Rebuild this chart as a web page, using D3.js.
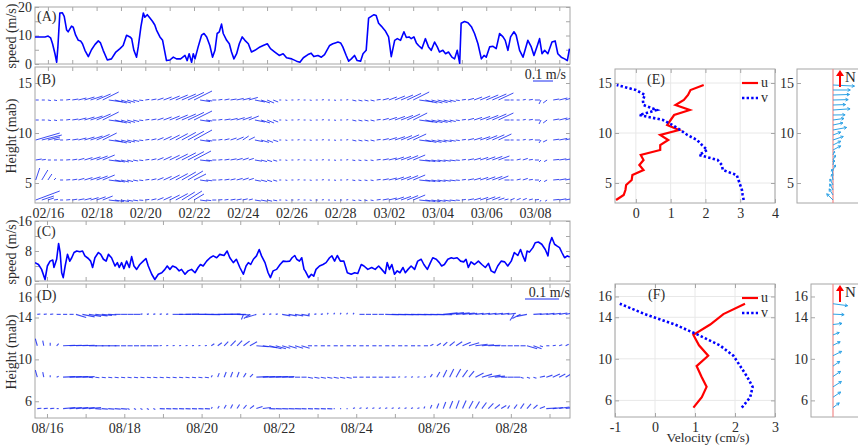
<!DOCTYPE html>
<html>
<head>
<meta charset="utf-8">
<script src="https://cdn.jsdelivr.net/npm/d3@7"></script>
<style>
body{margin:0;background:#fff;}
svg text{font-family:"Liberation Serif","Times New Roman",serif;fill:#2b2b2b;}
</style>
</head>
<body>
<script>
// ---------- data ----------
// (A) speed, days after 02/16
const daysA=[-0.53,-0.12,0.01,0.11,0.19,0.29,0.36,0.41,0.49,0.59,0.67,0.77,0.83,0.97,1.04,1.14,1.25,1.34,1.42,1.52,1.66,1.79,1.93,2.07,2.16,2.27,2.44,2.61,2.79,2.96,3.09,3.23,3.37,3.44,3.53,3.64,3.71,3.82,3.92,3.98,4.08,4.19,4.30,4.39,4.46,4.60,4.71,4.87,5.01,5.15,5.28,5.45,5.63,5.72,5.80,5.90,5.97,6.04,6.17,6.31,6.41,6.52,6.65,6.76,6.86,6.95,7.04,7.13,7.20,7.34,7.45,7.54,7.64,7.75,7.86,7.98,8.09,8.23,8.36,8.50,8.71,8.84,9.01,9.14,9.32,9.50,9.66,9.80,10.01,10.21,10.35,10.49,
10.68,10.81,10.92,11.09,11.23,11.36,11.57,11.70,11.80,11.91,12.02,12.11,12.25,12.35,12.46,12.59,12.70,12.84,12.94,13.07,13.17,13.28,13.39,13.48,13.58,13.69,13.85,13.99,14.10,14.24,14.35,14.48,14.62,14.72,14.83,14.92,15.03,15.13,15.22,15.36,15.50,15.63,15.74,15.88,15.99,16.08,16.22,16.33,16.45,16.59,16.70,16.81,16.91,16.97,17.11,17.25,17.39,17.52,17.66,17.80,17.91,18.00,18.14,18.28,18.41,18.55,18.69,18.78,18.89,19.00,19.14,19.23,19.37,19.51,19.71,19.85,19.96,20.10,20.19,20.29,20.40,20.53,20.70,20.83,20.94,21.08,21.22,21.33,21.42];
const speedA=[9.5,9.5,9.8,9.2,7.1,3.6,0.6,6.0,17.9,18.0,16.7,11.9,11.3,13.3,12.9,10.1,8.3,8.1,7.1,4.8,2.6,5.0,6.8,8.1,7.4,4.8,1.4,1.8,4.2,5.4,6.5,10.1,9.5,8.9,4.8,2.4,6.0,13.1,17.9,16.4,17.3,16.1,14.9,13.7,11.9,9.5,8.3,1.2,1.4,2.4,1.8,1.8,3.0,1.2,3.6,0.6,3.6,1.8,6.0,10.1,10.7,9.5,6.5,2.4,4.8,10.7,11.3,14.0,10.7,8.3,7.1,4.2,1.8,3.6,7.1,9.5,8.3,7.1,4.2,4.8,6.0,6.5,7.1,5.4,4.2,3.0,3.6,2.2,1.8,1.0,0.6,2.2,
3.3,3.8,2.6,3.0,2.4,3.3,6.5,7.1,7.4,7.7,7.4,6.0,3.0,1.0,1.8,3.0,1.2,1.0,3.6,4.8,16.1,16.7,17.3,17.0,14.3,13.3,11.7,9.5,2.6,8.3,8.9,8.3,11.3,9.3,9.5,8.9,9.5,7.4,6.5,5.4,8.9,6.0,4.8,7.7,6.0,4.2,4.8,3.6,4.2,2.4,1.8,4.8,0.2,14.3,14.9,14.5,13.1,10.7,7.1,1.8,3.0,2.4,6.0,6.2,5.4,10.7,9.5,8.3,4.8,9.5,11.3,10.1,4.8,2.4,8.3,6.0,3.0,6.5,8.9,3.6,4.8,3.6,7.7,8.1,3.6,2.4,1.8,1.2,5.4];

// (C) speed, days after 08/16
const daysC=[-0.31,-0.22,-0.14,-0.05,0.01,0.08,0.15,0.18,0.25,0.30,0.34,0.38,0.42,0.47,0.53,0.59,0.64,0.70,0.77,0.85,0.92,0.98,1.07,1.13,1.18,1.24,1.33,1.39,1.46,1.53,1.59,1.67,1.76,1.82,1.87,1.93,1.99,2.06,2.13,2.19,2.25,2.32,2.40,2.49,2.56,2.62,2.71,2.79,2.88,2.97,3.05,3.11,3.18,3.25,3.34,3.42,3.48,3.57,3.65,3.74,3.83,3.91,3.97,4.04,4.13,4.22,4.30,4.39,4.47,4.58,4.66,4.73,4.82,4.90,4.99,5.08,5.15,5.21,5.27,5.34,5.42,5.49,5.55,5.64,5.72,5.78,5.85,5.94,6.03,6.11,6.20,6.28,6.34,6.41,6.46,6.53,6.59,6.65,
6.68,6.77,6.84,6.90,6.96,7.05,7.14,7.22,7.31,7.37,7.44,7.51,7.59,7.68,7.77,7.87,7.96,8.04,8.13,8.20,8.30,8.40,8.49,8.58,8.66,8.75,8.80,8.86,8.92,8.99,9.06,9.13,9.21,9.27,9.34,9.42,9.51,9.59,9.68,9.75,9.84,9.92,9.98,10.07,10.15,10.21,10.28,10.37,10.46,10.52,10.61,10.70,10.78,10.84,10.90,10.97,11.06,11.16,11.25,11.34,11.42,11.49,11.58,11.66,11.75,11.84,11.92,12.01,12.09,12.18,12.25,12.31,12.37,12.42,12.48,12.57,12.63,12.71,12.80,12.89,12.96,13.00,13.06,13.13,13.20,13.26,13.32,13.39,13.46,13.52];
const speedC=[4.9,4.4,3.1,0.4,4.0,5.3,5.6,3.6,5.8,10.0,7.6,2.2,0.9,4.0,7.1,5.3,6.2,7.6,8.0,7.8,8.0,6.7,6.0,5.3,3.6,6.2,7.6,7.1,5.8,5.3,7.1,6.2,4.0,4.9,3.6,4.9,3.3,5.3,3.6,6.5,4.0,3.1,4.4,5.3,6.0,4.0,1.8,0.4,1.8,2.2,3.1,4.0,3.1,4.0,3.6,2.7,3.1,1.8,2.7,3.1,2.2,3.6,4.4,4.0,5.3,6.2,6.7,6.2,7.1,6.8,8.0,6.2,4.9,5.8,3.6,1.8,4.0,4.9,4.4,5.8,6.7,8.4,6.7,4.9,2.2,0.9,2.7,3.1,4.4,5.3,5.2,5.3,6.2,6.8,5.8,5.3,6.2,3.1,
2.7,0.9,1.8,1.3,3.1,4.0,4.4,4.9,6.2,6.7,5.3,6.8,5.3,5.3,2.2,1.8,2.2,2.0,4.4,4.0,3.1,3.6,3.1,4.0,3.1,2.0,4.9,3.1,4.4,1.8,2.7,2.2,3.6,2.2,3.1,4.0,3.1,5.3,5.8,4.4,3.1,4.9,6.2,5.8,4.9,4.0,4.4,5.8,6.2,6.0,6.2,5.3,5.1,5.8,3.6,5.1,4.4,5.3,4.4,3.6,4.7,2.7,2.2,4.0,5.3,5.1,4.0,5.3,7.6,6.8,8.4,6.7,5.3,8.0,7.7,8.9,10.2,10.4,9.8,8.4,6.7,9.8,11.6,9.8,9.3,8.9,7.6,6.2,6.7,6.4];

// (B) current sticks (cm/s), every 6 h from 02/15 12:00
const levelsB=[3.3,5.3,7.3,9.3,11.3,13.3];
const uB3=[12,6,3,2,1.5, 2,2.5,3,3.5,4,4.5,5, 5,4.5,4,3,2.5,2, 2,2.5,3,4,5,6,6.5,7,5, 3.5,2.5,2, 2,2,2.5,2.5,2.5,2, 3,3,2.5,2, 1,1,1,1,1,1,1,1,1,1,1,1, 1.5,1.5,1.5,1.5, 2,3,4,4.5,5,5.5,6, 5.5,5,4.5,4,3.5,3,2, 2,3,3.5,4,4.5,4,3, 2,2,2,2,2,2, -0.5,-1, 3,3.5,4];
const vB3=[4.5,2,1,0.3,0, 0.2,0.4,0.6,0.9,1.2,1.6,2, -0.6,-0.8,-0.8,-0.6,-0.4,-0.2, 0.3,0.6,1.2,1.8,2.5,3.2,4,4.5,3, -0.5,-0.3,0, 0.2,0.3,0.4,0.5,0.6,0.5, -0.5,-0.6,-0.6,-0.4, 0,-0.2,0,0.2,0,-0.2,0,0.2,0,-0.2,0,0.2, -0.3,-0.3,-0.3,-0.3, 0.3,0.6,1,1.5,1.8,2.2,2.5, -0.6,-0.8,-0.8,-0.7,-0.6,-0.4,-0.2, 0.3,0.6,1,1.3,1.6,1.5,1, 0.5,0.8,0.8,0.8,0.5,0.3, -0.8,-0.6, 0.3,0.6,0.8];
const uB5=[2,3,2,1,1.5, 2,2.5,3,4,5,5.5,6, 6,5,4,3,2.5,2, 2,2.5,3,4,5,6,7,7.5,6, 4,3,2, 2,2.5,2.5,3,3,2.5, 3,3,2.5,2, 1,1,1,1,1,1,1,1,1,1,1,1, 1.5,1.5,1.5,1.5, 2,3,4,4.5,5,5.5,6, 5.5,5,4.5,4,3.5,3,2, 2,3,3.5,4,4.5,5,5, 2.5,1.5,2,2.5,2,2, -1,-1.5, 3,3.5,4];
const vB5=[6,5,3,1,0, 0.2,0.4,0.8,1.2,1.6,2,2.5, -0.8,-1,-1,-0.8,-0.5,-0.3, 0.3,0.6,1.2,1.8,2.5,3.2,4,4.5,3, -0.6,-0.4,0, 0.2,0.4,0.6,0.8,1,0.8, -0.6,-0.8,-0.8,-0.6, 0,-0.2,0,0.2,0,-0.2,0,0.2,0,-0.2,0,0.2, -0.3,-0.3,-0.3,-0.3, 0.3,0.6,1,1.5,1.8,2.2,2.5, -0.6,-0.8,-0.8,-0.7,-0.6,-0.4,-0.2, 0.3,0.6,1,1.3,1.6,1.8,2, 0,0,0.5,0.8,0.3,0, -1,-0.8, 0.3,0.6,0.8];
const uB7=[3,2,1.5,1.5,1.5, 2,2.5,3,4,5,5.5,6, 6,5,4,3,2.5,2, 2,2.5,3,4,5,6,7,8,8.5, 5,3,2, 2,2.5,3,3,3,2.5, 3.5,3,2.5,2, 1,1,1,1,1,1,1,1,1,1,1,1, 1.5,1.5,1.5,1.5, 2,3,4,4.5,5,5.5,6, 5.5,5,4.5,4,3.5,3,2, 2,3,3.5,4,4.5,5,5.5, 2.5,1.5,2,2.5,2,2, -1,-1.5, 3,3.5,4];
const vB7=[0.5,0.3,0,0,0, 0.2,0.4,0.8,1.2,1.6,2,2.5, -0.8,-1,-1,-0.8,-0.5,-0.3, 0.3,0.6,1.2,1.8,2.4,3,3.6,4.2,4.5, -0.6,-0.4,0, 0.2,0.4,0.6,0.8,1,0.8, -0.6,-0.8,-0.8,-0.6, 0,-0.2,0,0.2,0,-0.2,0,0.2,0,-0.2,0,0.2, -0.3,-0.3,-0.3,-0.3, 0.3,0.6,1,1.5,1.8,2.2,2.5, -0.6,-0.8,-0.8,-0.7,-0.6,-0.4,-0.2, 0.3,0.6,1,1.3,1.6,1.8,2, 0,0,0.5,0.8,0.3,0, -1,-0.8, 0.3,0.6,0.8];
const uB9=[12,10,6,3,1.5, 2,3,4,5,6,6.5,7, 7,6,5,4,3,2, 2,2.5,3,4,5,6,7,8,9, 5,3,2, 2,2.5,3,3.5,3,3, 4,4,3,2.5, 1,1,1,1,1,1,1,1,1,1,1,1, 2,2,2,2, 2,3,4,5,5.5,6,6.5, 6,5.5,5,4.5,4,3,2, 2,3,4,5,5.5,6,6.5, 2.5,1.5,1.5,1.5,2,2.5, -1,-2, 3,4,4];
const vB9=[3.5,2.5,1.5,0.5,0, 0.3,0.5,1,1.5,2,2.8,3.5, -1,-1.5,-1.3,-1,-0.7,-0.3, 0.3,0.6,1.2,1.8,2.5,3.2,3.8,4.4,5, -0.8,-0.5,0, 0.3,0.6,1,1.5,2,1.5, -0.8,-1.2,-1.2,-0.8, 0,-0.2,0,0.2,0,-0.2,0,0.2,0,-0.2,0,0.2, -0.5,-0.5,-0.5,-0.5, 0.3,0.7,1.2,1.7,2.2,2.6,3, -0.8,-1.2,-1.2,-1,-0.8,-0.6,-0.3, 0.3,0.7,1.2,1.7,2.2,2.6,3, 0,0,0,0.3,0.3,0, -1.5,-1, 0.4,0.8,1];
const uB11=[1.5,1.5,1.5,1.5,1.5, 2,3,4,5,6,7,8, 7,6,5,4,3,2, 2,2.5,3,4,5,6,7,8,9, 5,3,2, 2,3,3.5,4,4.5,5, 5,4.5,3.5,2.5, 1,1,1,1,1,1,1,1,1,1,1,1, 2,2,2,2, 2,3,4,5,6,6.5,7, 7,6,5.5,5,4,3,2, 2,3,4,5,6,7,7.5, 2.5,1.5,1.5,1.5,2,2.5, -1,-2, 3,4,4];
const vB11=[0,0,-0.3,-0.3,0, 0.3,0.5,1,1.5,2,3,4, -1,-1.5,-1.5,-1.2,-0.8,-0.3, 0.3,0.5,1,1.5,2,2.5,3,3.8,4.5, -0.8,-0.5,0, 0.3,0.5,0.8,1.2,1.6,2, -1,-1.5,-1.5,-1, 0,-0.2,0,0.2,0,-0.2,0,0.2,0,-0.2,0,0.2, -0.5,-0.5,-0.5,-0.5, 0.3,0.8,1.3,1.8,2.3,3,3.5, -1,-1.3,-1.3,-1.2,-1,-0.8,-0.3, 0.3,0.8,1.3,1.8,2.3,3,3.5, 0,0,0,0.3,0.3,0, -2,-1.5, 0.5,1,1.3];
const uB13=[1.5,1.5,1.5,1.5,1.5, 2,3,4,5,6,7,8, 7,6,5,4,3,2, 2,2.5,3,4,5,6,7,8,9, 5,3,2, 2,2.5,3,3.5,4,4.5, 5,4.5,3.5,2.5, 1,1,1,1,1,1,1,1,1,1,1,1, 2,2,2,2, 2,3,4,5,6,7,8, 7,6,5.5,5,4,3,2, 2,3,4,5,6,7,7.5, 2.5,1.5,1.5,1.5,2,2.5, -1,-2, 3,4,4];
const vB13=[0,0,-0.3,-0.3,0, 0.3,0.5,1,1.5,2,3,4, -1,-1.5,-1.5,-1.2,-0.8,-0.3, 0.3,0.5,1,1.5,2,2.5,3,3.8,4.5, -0.8,-0.5,0, 0.3,0.5,0.5,0.8,1,1.3, -1,-1.5,-1.5,-1, 0,-0.2,0,0.2,0,-0.2,0,0.2,0,-0.2,0,0.2, -0.5,-0.5,-0.5,-0.5, 0.3,0.8,1.5,2,2.5,3.3,4, -1,-1.5,-1.5,-1.3,-1,-0.8,-0.3, 0.3,0.8,1.5,2,2.5,3,3.5, 0,0,0,0.3,0.3,0, -2,-1.5, 0.5,1,1.3];

// (D) current sticks (cm/s), every 4 h from 08/15 18:00
const levelsD=[5.3,8.3,11.3,14.3];
const uD5=[1.2,1.2,1.2,0.6, 3.6,3.6,3.6,3.6,3.6, 1.8,1.8,1.8,1.8,1.8, 0.6,0.6,0.6,0.6,0.6, 1.5,1.5,1.5,1.5,1.5,1.5,1.5,1.5, 0.3,0.45,0.6,0.6,0.75,0.9,1.2,1.8,2.4, 1.8,1.8,1.8,1.8,1.8, 1.5,1.5,1.5,1.5,1.5, 0.3,0.3,0.3, 0.6,0.6,0.6,0.6,0.6,0.6,0.6,0.6,0.6,0.6,0.6, 0.3,0.45,0.6,0.75,0.9,0.9,1.05,1.2,1.2,1.35,1.5,1.5,1.5, 0.6,0.9,1.05,1.2,1.2,1.5, 3,3,3,3];
const vD5=[0.1,0.1,0.1,0, 0.3,0.3,0.3,0.3,0.3, -0.15,-0.15,-0.15,-0.15,-0.15, -0.3,-0.3,-0.3,-0.3,-0.3, -0.1,-0.1,-0.1,-0.1,-0.1,-0.1,-0.1,-0.1, 0.45,0.75,1.05,1.2,1.2,1.05,0.9,0.6,0.3, -0.1,-0.1,-0.1,-0.1,-0.1, -0.1,-0.1,-0.1,-0.1,-0.1, 0,0,0, 0.25,0.25,0.25,0.25,0.25,0.25,0.25,0.25,0.25,0.25,0.25, 0.6,1.05,1.5,1.95,2.25,2.4,2.4,2.25,2.1,1.8,1.5,1.2,0.9, 0.9,1.2,1.5,1.35,1.05,0.6, 0.15,0.3,0.45,0.45];
const uD8=[-0.6,-0.3,0,0.6, 3.6,3.6,3.6,3.6, 1.2,1.2,1.2,1.2,1.2,1.2,1.2,1.2,1.2,1.2,1.2,1.2,1.2,1.2,1.2,1.2,1.2,1.2,1.2, 0.3,0.45,0.6,0.6,0.6,0.75,0.9, 3.6,3.6,3.6,3.6,3.6, 1.5,1.5,1.5, 1.5,1.5,1.5,1.5,1.5,1.5,1.5, 1.2,1.2,1.2,1.2,1.2,1.2,1.2, 0.6,0.6,0.6,0.6,0.6, 0.6,0.9,1.05,1.2,1.35,1.5,1.5, 2.4,3,3.6,3, 1.8,1.8,1.8, 0.9,0.9,0.9, 1.5,1.8,2.1,1.8,1.8];
const vD8=[2.1,1.5,0.6,0.3, 0.15,0.15,0.15,0.15, -0.15,-0.15,-0.15,-0.15,-0.15,-0.15,-0.15,-0.15,-0.15,-0.15,-0.15,-0.15,-0.15,-0.15,-0.15,-0.15,-0.15,-0.15,-0.15, 0.6,1.2,1.5,1.5,1.5,1.2,0.9, 0.15,0.15,0.15,0.15,0.15, 0,0,0, -0.3,-0.3,-0.3,-0.3,-0.3,-0.3,-0.3, 0,0,0,0,0,0,0, 0.1,0.1,0.1,0.1,0.1, 0.9,1.5,2.1,2.4,2.4,2.1,1.8, 1.2,0.9,0.6,0.3, 0,0,0, -0.3,-0.3,-0.3, 0.3,0.6,0.9,0.9,1.05];
const uD11=[-0.6,-0.3,0,0.6, 3.6,3.6,3.6,3.6, 2.4,2.4,2.4,2.4, 1.5,1.5,1.5,1.5,1.5,1.5,1.5, 0.6,0.6,0.6,0.6,0.6,0.6,0.6,0.6, 0.9,1.2,1.2,1.5,1.5,1.8,2.1, 3.6,4.2,3.6,3, 2.4,2.4,2.4,2.4, 1.2,0.9,1.2,0.9,1.2,0.9,1.2,0.9,1.2,0.9,1.2,0.9,1.2,0.9,1.2,0.9,1.2,0.9,1.2, 0.9,1.2,1.2,1.5,1.8,2.4,3, 3.6,3.6,3.6, 1.5,1.5,1.5,1.5,1.5, 3,2.4, 0.9,0.9,0.9,0.9,0.9];
const vD11=[2.1,1.5,0.9,0.6, 0.15,0.15,0.15,0.15, 0,0,0,0, 0,0,0,0,0,0,0, 0.1,0.1,0.1,0.1,0.1,0.1,0.1,0.1, 0.6,0.9,1.2,1.5,1.5,1.35,1.2, -0.3,-0.6,-0.9,-0.9, -0.75,-0.75,-0.75,-0.75, 0,0,0,0,0,0,0,0,0,0,0,0,0,0,0,0,0,0,0, 0.45,0.75,1.05,1.2,1.2,1.05,0.9, 0.45,0.3,0.15, 0,0,0,0,0, -0.9,-0.9, -0.3,0,0.15,0.3,0.45];
const uD14=[0.9,0.9,0.9, 1.2,1.2,1.2, 3,3.6,3.6,3.6,3,2.4, 1.8,1.8,1.8,1.8, 0.6,0.6,0.6,0.6,0.6, 3,3.6,4,4.2,4.5,4.5,4.2,4.5,4.8,4.5,4, -0.6,-1.8,-3, 0.6,0.6,0.6, 2.4,2.4,2.4,2.4, 0.6,0.6,0.6, 0.3,0.3,0.3,0.3,0.3, 1.5,1.5,1.5,1.5, 4,4.2,4.5,4.2,4.5,4.2,4,4.2,4.5, 4.2,4.2,4,3.6, 2.4,2.4,2.4,2.4,2.4,2.4,2.4, -1.2,-2.4,-3, 2.4,2.4,2.4,2.4,2.4,2.4];
const vD14=[0.1,0.1,0.1, 0,0,0, -0.9,-0.75,-0.6,-0.45,-0.3,-0.15, 0,0,0,0, 0.15,0.15,0.15,0.15,0.15, 0,0,0.1,0,0,-0.1,0,0,0.1,0,-0.2, -1.5,-1.2,-0.9, 0.15,0.15,0.15, -0.45,-0.45,-0.45,-0.45, 0.15,0.15,0.15, 0.45,0.45,0.45,0.45,0.45, 0,0,0,0, -0.1,-0.1,-0.1,-0.1,-0.1,-0.1,-0.1,-0.1,-0.1, 0.45,0.5,0.45,0.4, 0.3,0.3,0.3,0.3,0.3,0.3,0.3, -1.8,-1.2,-0.6, 0.15,0.2,0.3,0.35,0.4,0.45];

// (E) mean profile
const heightsE=[3.3,3.8,4.3,4.8,5.3,5.8,6.3,6.8,7.3,7.8,8.3,8.8,9.3,9.8,10.3,10.8,11.3,11.8,12.3,12.8,13.3,13.8,14.3,14.8];
const uE=[-0.57,-0.35,-0.3,-0.28,-0.12,-0.1,0.22,0.1,0.22,0.14,0.7,0.7,0.93,0.7,1.24,0.9,1.0,1.1,1.55,1.14,1.38,1.5,1.57,1.95];
const vE=[3.1,3.07,3.05,3.0,2.95,2.9,2.5,2.47,2.35,1.82,2.05,1.9,1.76,1.48,1.28,1.05,0.78,0.1,0.6,0.22,0.2,0.26,0.0,-0.55];
// (F) mean profile
const heightsF=[5.3,6.3,7.3,8.3,9.3,10.3,11.3,12.3,13.3,14.3,15.3];
const uF=[0.96,1.17,1.29,1.16,1.04,1.33,1.1,0.96,1.38,1.71,2.25];
const vF=[2.17,2.38,2.44,2.3,2.13,1.96,1.62,1.08,0.5,-0.25,-0.88];

// ---------- setup ----------
const W=858,H=447;
const svg=d3.select("body").append("svg").attr("width",W).attr("height",H);
const startB=Date.UTC(2019,1,16), startD=Date.UTC(2019,7,16);
const day=(s,d)=>new Date(s+d*864e5);
const fmt=d3.utcFormat("%m/%d");
const gridCol="#a6a6a6";

const xB=d3.scaleUtc().domain([day(startB,-0.53),day(startB,21.44)]).range([35,570]);
const xD=d3.scaleUtc().domain([day(startD,-0.31),day(startD,13.53)]).range([35,570]);
const yA=d3.scaleLinear().domain([0,20]).range([64,7]);
const yB=d3.scaleLinear().domain([3,16.6]).range([203,67]);
const yC=d3.scaleLinear().domain([0,16]).range([281,221]);
const yD=d3.scaleLinear().domain([4.4,17.2]).range([418,284]);
const xE=d3.scaleLinear().domain([-0.6,4]).range([615,775]);
const yE=d3.scaleLinear().domain([3,16.4]).range([203,69]);
const xF=d3.scaleLinear().domain([-1,3]).range([615,775]);
const yF=d3.scaleLinear().domain([4.4,17.2]).range([417,284]);

const ticksB=d3.range(0,22).map(d=>day(startB,d));
const ticksD=d3.range(0,14).map(d=>day(startD,d));
const fmtB=(d,i)=>i%2===0?fmt(d):"";

function styleAxis(g){
  g.select(".domain").remove();
  g.selectAll(".tick line").attr("stroke",gridCol);
  g.attr("font-family",null).attr("font-size",null);
  g.selectAll("text").style("font-size","14px");
}
function panel(x,y,o){
  const [x0,x1]=x.range(), [y1,y0]=y.range();
  if(o.grid){
    svg.append("g").selectAll("line").data(o.xt).join("line")
      .attr("x1",d=>x(d)).attr("x2",d=>x(d)).attr("y1",y0).attr("y2",y1)
      .attr("stroke","#e8e8e8");
    svg.append("g").selectAll("line").data(o.yt).join("line")
      .attr("x1",x0).attr("x2",x1).attr("y1",d=>y(d)).attr("y2",d=>y(d))
      .attr("stroke","#e8e8e8");
  }
  svg.append("g").attr("transform",`translate(0,${y1})`)
    .call(d3.axisBottom(x).tickValues(o.xt).tickSizeInner(-4).tickSizeOuter(0).tickPadding(5).tickFormat(o.xf||(()=>"")))
    .call(styleAxis);
  svg.append("g").attr("transform",`translate(0,${y0})`)
    .call(d3.axisTop(x).tickValues(o.xt).tickSizeInner(-4).tickSizeOuter(0).tickFormat(()=>""))
    .call(styleAxis);
  svg.append("g").attr("transform",`translate(${x0},0)`)
    .call(d3.axisLeft(y).tickValues(o.yt).tickSizeInner(-4).tickSizeOuter(0).tickPadding(3).tickFormat(o.yf||(d=>d)))
    .call(styleAxis);
  svg.append("g").attr("transform",`translate(${x1},0)`)
    .call(d3.axisRight(y).tickValues(o.yt).tickSizeInner(-4).tickSizeOuter(0).tickFormat(()=>""))
    .call(styleAxis);
  svg.append("rect").attr("x",x0).attr("y",y0).attr("width",x1-x0).attr("height",y1-y0)
    .attr("fill","none").attr("stroke",gridCol);
}
function clip(id,x,y){
  const [x0,x1]=x.range(), [y1,y0]=y.range();
  svg.append("clipPath").attr("id",id).append("rect").attr("x",x0).attr("y",y0).attr("width",x1-x0).attr("height",y1-y0);
  return svg.append("g").attr("clip-path",`url(#${id})`);
}
function label(x,y,t,opt={}){
  const e=svg.append("text").attr("x",x).attr("y",y).text(t).style("font-size",(opt.size||14)+"px");
  if(opt.anchor) e.attr("text-anchor",opt.anchor);
  if(opt.rot) e.attr("transform",`rotate(-90,${x},${y})`);
  return e;
}
const stickColor="#1a2cf0";

// ---------- (A) ----------
panel(xB,yA,{xt:ticksB,yt:[0,5,10,15,20],yf:d=>d%10===0?d:""});
clip("cA",xB,yA).append("path")
  .datum(daysA.map((d,i)=>[d,speedA[i]]))
  .attr("fill","none").attr("stroke","#0000ff").attr("stroke-width",1.6).attr("stroke-linejoin","round")
  .attr("d",d3.line().x(d=>xB(day(startB,d[0]))).y(d=>yA(d[1])));
label(37,21,"(A)");
label(16,36,"speed (m/s)",{anchor:"middle",rot:true});

// ---------- (B) ----------
panel(xB,yB,{xt:ticksB,yt:[5,10,15],xf:fmtB});
const stickB=d3.scaleLinear().domain([0,10]).range([0,20]);
const uB=[uB3,uB5,uB7,uB9,uB11,uB13], vB=[vB3,vB5,vB7,vB9,vB11,vB13];
const gB=clip("cB",xB,yB);
levelsB.forEach((h,j)=>{
  gB.append("g").selectAll("line").data(uB[j]).join("line")
    .attr("x1",(d,i)=>xB(day(startB,-0.5+i*0.25)))
    .attr("y1",yB(h))
    .attr("x2",(d,i)=>xB(day(startB,-0.5+i*0.25))+stickB(d))
    .attr("y2",(d,i)=>yB(h)-stickB(vB[j][i]))
    .attr("stroke",stickColor).attr("stroke-width",1).attr("stroke-opacity",0.85);
});
label(37,84,"(B)");
label(16,136,"Height (mab)",{anchor:"middle",rot:true});
label(566,79,"0.1 m/s",{anchor:"end"});
svg.append("line").attr("x1",533).attr("x2",533+stickB(10)).attr("y1",81).attr("y2",81)
  .attr("stroke",stickColor).attr("stroke-width",1);

// ---------- (C) ----------
panel(xD,yC,{xt:ticksD,yt:[0,4,8,12,16],yf:d=>d%8===0?d:""});
clip("cC",xD,yC).append("path")
  .datum(daysC.map((d,i)=>[d,speedC[i]]))
  .attr("fill","none").attr("stroke","#0000ff").attr("stroke-width",1.6).attr("stroke-linejoin","round")
  .attr("d",d3.line().x(d=>xD(day(startD,d[0]))).y(d=>yC(d[1])));
label(37,236,"(C)");
label(16,252,"speed (m/s)",{anchor:"middle",rot:true});

// ---------- (D) ----------
panel(xD,yD,{xt:ticksD,yt:[6,10,14,16],xf:fmtB});
const stickD=d3.scaleLinear().domain([0,10]).range([0,34]);
const uD=[uD5,uD8,uD11,uD14], vD=[vD5,vD8,vD11,vD14];
const gD=clip("cD",xD,yD);
levelsD.forEach((h,j)=>{
  gD.append("g").selectAll("line").data(uD[j]).join("line")
    .attr("x1",(d,i)=>xD(day(startD,-0.25+i/6)))
    .attr("y1",yD(h))
    .attr("x2",(d,i)=>xD(day(startD,-0.25+i/6))+stickD(d))
    .attr("y2",(d,i)=>yD(h)-stickD(vD[j][i]))
    .attr("stroke",stickColor).attr("stroke-width",1.1).attr("stroke-opacity",0.85);
});
label(37,300,"(D)");
label(16,352,"Height (mab)",{anchor:"middle",rot:true});
label(570,297,"0.1 m/s",{anchor:"end"});
svg.append("line").attr("x1",525).attr("x2",525+stickD(10)).attr("y1",299).attr("y2",299)
  .attr("stroke",stickColor).attr("stroke-width",1);

// ---------- (E) / (F) profiles ----------
function profile(x,y,hs,us,vs,o){
  panel(x,y,{xt:o.xt,yt:o.yt,xf:d=>d,grid:true});
  const g=clip(o.id,x,y);
  g.append("path").datum(hs.map((h,i)=>[us[i],h]))
    .attr("fill","none").attr("stroke","#ff0000").attr("stroke-width",2.2)
    .attr("d",d3.line().x(d=>x(d[0])).y(d=>y(d[1])));
  g.append("path").datum(hs.map((h,i)=>[vs[i],h]))
    .attr("fill","none").attr("stroke","#0000ff").attr("stroke-width",2.6).attr("stroke-dasharray","2.4,2.2")
    .attr("d",d3.line().x(d=>x(d[0])).y(d=>y(d[1])));
  const ly=o.legendY;
  svg.append("line").attr("x1",742).attr("x2",758).attr("y1",ly).attr("y2",ly).attr("stroke","#ff0000").attr("stroke-width",2.2);
  svg.append("line").attr("x1",742).attr("x2",758).attr("y1",ly+15).attr("y2",ly+15).attr("stroke","#0000ff").attr("stroke-width",2.6).attr("stroke-dasharray","2.4,2.2");
  label(761,ly+4,"u");
  label(761,ly+19,"v");
}
profile(xE,yE,heightsE,uE,vE,{xt:[0,1,2,3,4],yt:[5,10,15],id:"cE",legendY:83});
label(647,84,"(E)");
profile(xF,yF,heightsF,uF,vF,{xt:[-1,0,1,2,3],yt:[6,10,14,16],id:"cF",legendY:298});
label(648,299,"(F)");
label(708,442,"Velocity (cm/s)",{anchor:"middle",size:13.5});

// ---------- small direction panels ----------
function compass(x0,y,yt,hs,us,vs,kx,ky){
  const [y1,y0]=y.range();
  const x1=858, xr=833;
  svg.append("g").attr("transform",`translate(${x0},0)`)
    .call(d3.axisLeft(y).tickValues(yt).tickSizeInner(-4).tickSizeOuter(0).tickPadding(3))
    .call(styleAxis);
  svg.append("rect").attr("x",x0).attr("y",y0).attr("width",x1-x0+2).attr("height",y1-y0)
    .attr("fill","none").attr("stroke",gridCol);
  svg.append("line").attr("x1",xr).attr("x2",xr).attr("y1",y0).attr("y2",y1).attr("stroke","#f08a8a").attr("stroke-width",1.2);
  const g=svg.append("g");
  hs.forEach((h,i)=>{
    const ax=xr, ay=y(h), bx=xr+us[i]*kx, by=y(h)-vs[i]*ky;
    const ang=Math.atan2(by-ay,bx-ax), len=Math.hypot(bx-ax,by-ay), hl=Math.min(3,len*0.4);
    g.append("path")
      .attr("d",`M${ax},${ay}L${bx},${by}M${bx-hl*Math.cos(ang-0.5)},${by-hl*Math.sin(ang-0.5)}L${bx},${by}L${bx-hl*Math.cos(ang+0.5)},${by-hl*Math.sin(ang+0.5)}`)
      .attr("fill","none").attr("stroke","#2ea3e6").attr("stroke-width",1);
  });
  // north arrow
  svg.append("line").attr("x1",840).attr("x2",840).attr("y1",y0+18).attr("y2",y0+5).attr("stroke","#ff0000").attr("stroke-width",2);
  svg.append("path").attr("d",`M836,${y0+7}L840,${y0+1}L844,${y0+7}Z`).attr("fill","#ff0000");
  label(845,y0+13,"N",{size:15});
}
compass(797,yE,[5,10,15],heightsE,uE,vE,11,2);
compass(811,yF,[6,10,14,16],heightsF,uF,vF,6.5,2.2);
</script>
</body>
</html>
